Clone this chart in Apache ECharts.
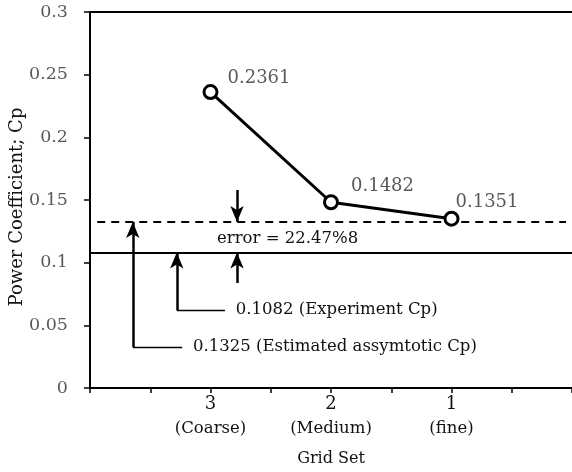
<!DOCTYPE html>
<html>
<head>
<meta charset="utf-8">
<script src="https://cdn.jsdelivr.net/npm/echarts@6/dist/echarts.min.js"></script>
<style>
  html, body { margin: 0; padding: 0; background: #fff; }
  #chart { width: 572px; height: 472px; }
</style>
</head>
<body>
<div id="chart"></div>
<script>
// Grid refinement study: power coefficient per grid set
const gridPositions = [2, 4, 6];
const gridNumbers = ['3', '2', '1'];
const gridNames = ['(Coarse)', '(Medium)', '(fine)'];
const powerCoefficient = [0.2361, 0.1482, 0.1351];
const estimatedCp = 0.1325;   // estimated asymptotic Cp
const experimentCp = 0.1082;  // experimental Cp
const errorText = 'error = 22.47%8';
const yTitle = 'Power Coefficient; Cp';
const yTicks = [0, 0.05, 0.1, 0.15, 0.2, 0.25, 0.3];

const FONT = 'DejaVu Serif';
const GREY = '#595959';

const chart = echarts.init(document.getElementById('chart'));

const labelOffsets = [[4, -14], [7, -16], [-9, -16]];
const points = powerCoefficient.map((v, i) => ({
  value: [gridPositions[i], v],
  label: { offset: labelOffsets[i] }
}));

const arrowLine = { color: '#000', width: 2.5, type: 'solid' };
const leaderLine = { color: '#000', width: 1.3, type: 'solid' };

function seg(a, b, style, arrow) {
  return [
    { coord: a, symbol: 'none', lineStyle: style },
    { coord: b, symbol: arrow ? 'arrow' : 'none', symbolSize: [10, 16] }
  ];
}

function textAt(x, y, text, pos) {
  return {
    coord: [x, y], symbol: 'circle', symbolSize: 0,
    label: { show: true, formatter: text, position: pos || 'right', distance: 0,
      fontFamily: FONT, fontSize: 16.5, color: '#111' }
  };
}

chart.setOption({
  animation: false,
  grid: { left: 90, right: 0, top: 12, bottom: 84, outerBoundsMode: 'none', containLabel: false },
  graphic: [{
    type: 'text', x: 17, y: 207, rotation: Math.PI / 2,
    style: { text: yTitle, font: '18px "DejaVu Serif"', fill: '#111',
      align: 'center', verticalAlign: 'middle' }
  }],
  xAxis: [{
    type: 'value', min: 0, max: 8, interval: 1,
    name: 'Grid Set', nameLocation: 'middle', nameGap: 63,
    nameTextStyle: { fontFamily: FONT, fontSize: 16, color: '#111' },
    axisLine: { show: true, lineStyle: { color: '#000', width: 2 } },
    axisTick: { show: true, inside: false, length: 5, lineStyle: { color: '#000', width: 1.5 } },
    splitLine: { show: false },
    axisLabel: {
      margin: 5,
      formatter: v => {
        const i = gridPositions.indexOf(v);
        return i < 0 ? '' : '{n|' + gridNumbers[i] + '}\n{s|' + gridNames[i] + '}';
      },
      rich: {
        n: { fontFamily: FONT, fontSize: 18, color: '#111', lineHeight: 22 },
        s: { fontFamily: FONT, fontSize: 16.5, color: '#111', lineHeight: 27 }
      }
    }
  }, {
    type: 'value', position: 'top', min: 0, max: 8,
    axisLine: { show: true, lineStyle: { color: '#000', width: 2 } },
    axisTick: { show: false }, axisLabel: { show: false }, splitLine: { show: false }
  }],
  yAxis: {
    type: 'value', min: 0, max: 0.3, interval: 0.05,
    axisLine: { show: true, lineStyle: { color: '#000', width: 2 } },
    axisTick: { show: true, inside: false, length: 6, lineStyle: { color: '#000', width: 1.5 } },
    splitLine: { show: false },
    axisLabel: {
      margin: 22, fontFamily: FONT, fontSize: 17.5, color: GREY,
      formatter: v => {
        const t = yTicks.find(k => Math.abs(k - v) < 1e-9);
        return t === undefined ? '' : String(+t.toFixed(2));
      }
    }
  },
  series: [{
    type: 'line',
    data: points,
    symbol: 'circle', symbolSize: 13,
    itemStyle: { color: '#fff', borderColor: '#000', borderWidth: 3 },
    lineStyle: { color: '#000', width: 3 },
    label: { show: true, position: 'right', formatter: p => p.value[1].toFixed(4),
      fontFamily: FONT, fontSize: 18, color: GREY },
    z: 5,
    markLine: {
      silent: true, animation: false,
      label: { show: false },
      data: [
        [{ coord: [0.12, estimatedCp], symbol: 'none', lineStyle: { color: '#000', width: 2, type: [8, 6] } },
         { coord: [7.9, estimatedCp], symbol: 'none' }],
        [{ coord: [0, experimentCp], symbol: 'none', lineStyle: { color: '#000', width: 2, type: 'solid' } },
         { coord: [8, experimentCp], symbol: 'none' }],
        // leader for the estimated value
        seg([0.71, 0.0327], [0.71, estimatedCp], arrowLine, true),
        seg([0.71, 0.0327], [1.53, 0.0327], leaderLine, false),
        // leader for the experimental value
        seg([1.44, 0.0622], [1.44, experimentCp], arrowLine, true),
        seg([1.44, 0.0622], [2.24, 0.0622], leaderLine, false),
        // error bracket
        seg([2.44, 0.158], [2.44, estimatedCp], arrowLine, true),
        seg([2.44, 0.0838], [2.44, experimentCp], arrowLine, true)
      ]
    },
    markPoint: {
      silent: true, animation: false,
      data: [
        textAt(1.71, 0.0327, estimatedCp.toFixed(4) + ' (Estimated assymtotic Cp)'),
        textAt(2.42, 0.0622, experimentCp.toFixed(4) + ' (Experiment Cp)'),
        textAt(3.28, 0.1189, errorText, 'inside')
      ]
    }
  }]
});
</script>
</body>
</html>
